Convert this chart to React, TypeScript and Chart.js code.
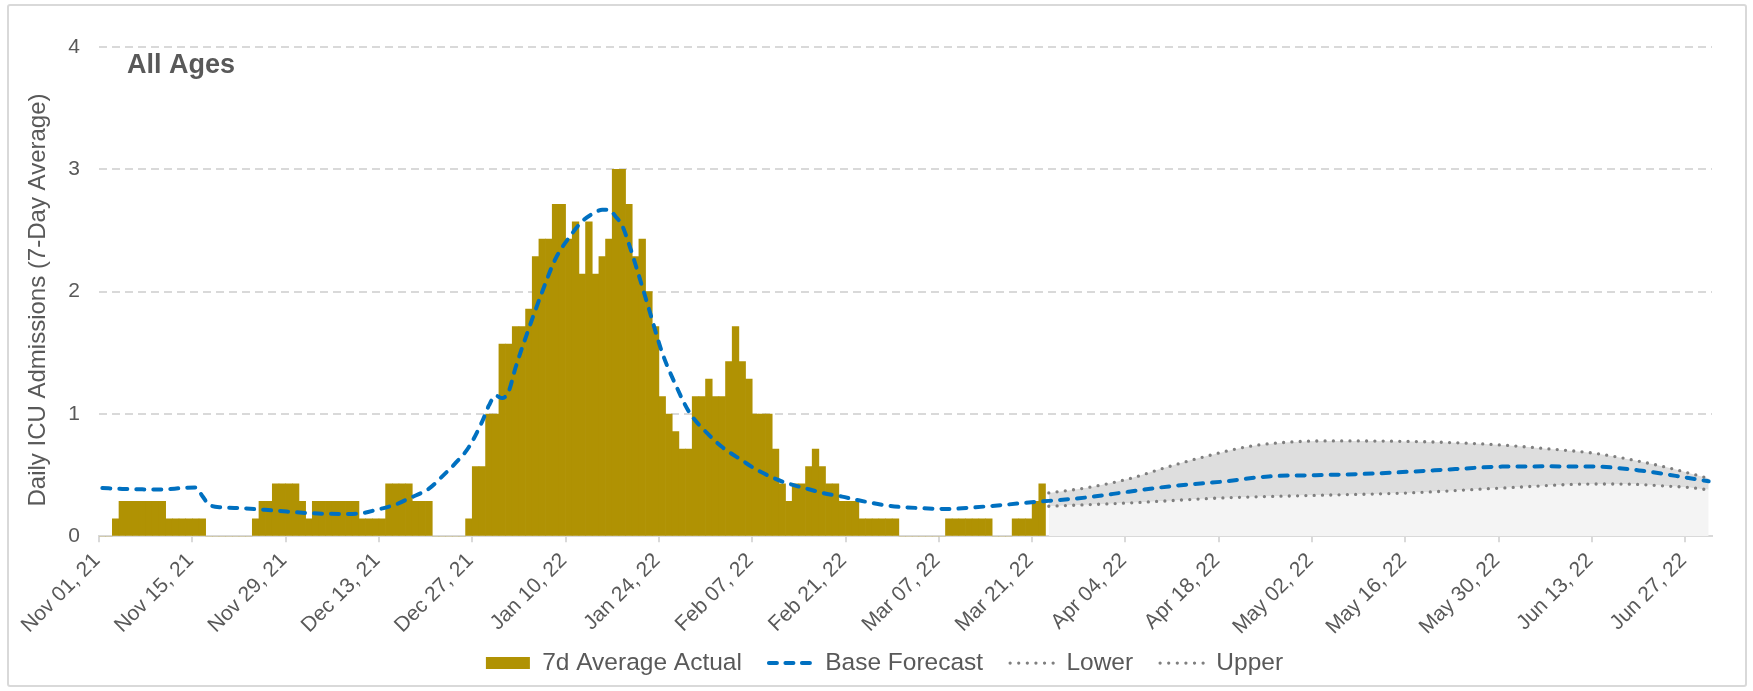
import React, { useEffect, useRef } from 'react';
import { Chart, registerables } from 'chart.js';

Chart.register(...registerables);

const FONT = '"Liberation Sans", Arial, Helvetica, sans-serif';
const TEXT = '#595959';
const GOLD = '#B09203';
const BLUE = '#0070C0';
const DOT = '#7F7F7F';
const GRID = '#D9D9D9';

const panelTitle = 'All Ages';
const yAxisTitle = 'Daily ICU Admissions (7-Day Average)';

// Day 0 = Nov 01, 21 ; last day = Jun 30, 22
const totalDays = 242;
const tickStep = 14;
const tickLabels = [
  'Nov 01, 21', 'Nov 15, 21', 'Nov 29, 21', 'Dec 13, 21', 'Dec 27, 21', 'Jan 10, 22',
  'Jan 24, 22', 'Feb 07, 22', 'Feb 21, 22', 'Mar 07, 22', 'Mar 21, 22', 'Apr 04, 22',
  'Apr 18, 22', 'May 02, 22', 'May 16, 22', 'May 30, 22', 'Jun 13, 22', 'Jun 27, 22',
];

// 7d average actual, one value per day from Nov 01, 21 (day 0) to Mar 22, 22 (day 141)
const actualValues = [
  0, 0, 0.143, 0.286, 0.286, 0.286, 0.286,
  0.286, 0.286, 0.286, 0.143, 0.143, 0.143, 0.143,
  0.143, 0.143, 0, 0, 0, 0, 0,
  0, 0, 0.143, 0.286, 0.286, 0.429, 0.429,
  0.429, 0.429, 0.286, 0.143, 0.286, 0.286, 0.286,
  0.286, 0.286, 0.286, 0.286, 0.143, 0.143, 0.143,
  0.143, 0.429, 0.429, 0.429, 0.429, 0.286, 0.286,
  0.286, 0, 0, 0, 0, 0, 0.143,
  0.571, 0.571, 1, 1, 1.571, 1.571, 1.714,
  1.714, 1.857, 2.286, 2.429, 2.429, 2.714, 2.714,
  2.429, 2.571, 2.143, 2.571, 2.143, 2.286, 2.429,
  3, 3, 2.714, 2.286, 2.429, 2, 1.714,
  1.143, 1, 0.857, 0.714, 0.714, 1.143, 1.143,
  1.286, 1.143, 1.143, 1.429, 1.714, 1.429, 1.286,
  1, 1, 1, 0.714, 0.429, 0.286, 0.429,
  0.429, 0.571, 0.714, 0.571, 0.429, 0.429, 0.286,
  0.286, 0.286, 0.143, 0.143, 0.143, 0.143, 0.143,
  0.143, 0, 0, 0, 0, 0, 0,
  0, 0.143, 0.143, 0.143, 0.143, 0.143, 0.143,
  0.143, 0, 0, 0, 0.143, 0.143, 0.143,
  0.286, 0.429,
];

// Base forecast, read at these days
const forecastDays = [
  0, 3, 6, 9, 12, 14, 15, 16, 18, 21, 26, 31, 36, 39, 41, 44, 46, 49, 51, 53,
  55, 57, 58, 59, 60, 61, 62, 64, 66, 68, 70, 72, 74, 75, 76, 77, 78, 79, 80, 82,
  84, 86, 88, 91, 93, 96, 98, 101, 103, 106, 108, 111, 113, 118, 123, 127, 131, 135, 140, 142,
  148, 154, 161, 168, 175, 182, 189, 196, 203, 210, 217, 224, 231, 238, 241,
];
const forecastValues = [
  0.395, 0.388, 0.384, 0.383, 0.395, 0.4, 0.33, 0.26, 0.237, 0.23, 0.21, 0.19, 0.183, 0.19, 0.215, 0.26, 0.31, 0.39, 0.49, 0.6,
  0.73, 0.94, 1.07, 1.15, 1.13, 1.19, 1.38, 1.7, 2.0, 2.27, 2.44, 2.575, 2.65, 2.67, 2.67, 2.615, 2.54, 2.39, 2.22, 1.86,
  1.5, 1.24, 1.02, 0.83, 0.73, 0.62, 0.55, 0.47, 0.43, 0.385, 0.355, 0.325, 0.3, 0.25, 0.23, 0.224, 0.238, 0.256, 0.282, 0.29,
  0.32, 0.365, 0.414, 0.447, 0.49, 0.5, 0.51, 0.528, 0.55, 0.57, 0.572, 0.57, 0.536, 0.477, 0.45,
];

const lowerDays = [142, 154, 168, 182, 196, 210, 224, 230, 235, 238, 241];
const lowerValues = [0.246, 0.273, 0.314, 0.335, 0.355, 0.395, 0.428, 0.425, 0.41, 0.4, 0.38];

const upperDays = [142, 148, 154, 160, 166, 172, 178, 184, 196, 203, 210, 217, 224, 230, 235, 238, 241];
const upperValues = [0.355, 0.4, 0.47, 0.57, 0.66, 0.735, 0.77, 0.78, 0.776, 0.765, 0.746, 0.715, 0.678, 0.62, 0.56, 0.517, 0.474];

const toPoints = (days: number[], values: number[]) => days.map((d, i) => ({ x: d + 0.5, y: values[i] }));

const textPlugin = {
  id: 'panelTexts',
  afterLayout(chart: any) {
    // let rotated x labels overflow below the axis box (they overlap the legend band in the reference)
    const xs = chart.scales.x;
    if (xs) xs.bottom = chart.height;
  },
  afterDraw(chart: any) {
    const ctx = chart.ctx;
    ctx.save();
    ctx.font = `bold 27px ${FONT}`;
    ctx.fillStyle = TEXT;
    ctx.textAlign = 'left';
    ctx.textBaseline = 'alphabetic';
    ctx.fillText(panelTitle, 127, 73);
    ctx.restore();

    ctx.save();
    ctx.translate(38.5, 300);
    ctx.rotate(-Math.PI / 2);
    ctx.font = `24px ${FONT}`;
    ctx.fillStyle = TEXT;
    ctx.textAlign = 'center';
    ctx.textBaseline = 'middle';
    ctx.fillText(yAxisTitle, 0, 0);
    ctx.restore();
  },
};

export default function App() {
  const canvasRef = useRef<HTMLCanvasElement | null>(null);

  useEffect(() => {
    const canvas = canvasRef.current;
    if (!canvas) return;
    Chart.defaults.font.family = FONT;
    Chart.defaults.color = TEXT;

    const chart = new Chart(canvas, {
      type: 'bar',
      data: {
        datasets: [
          {
            type: 'bar',
            label: '7d Average Actual',
            data: actualValues.map((v, i) => ({ x: i + 0.5, y: v })),
            backgroundColor: GOLD,
            borderWidth: 0,
            barPercentage: 1,
            categoryPercentage: 1,
            order: 2,
          },
          {
            type: 'line',
            label: 'Base Forecast',
            data: toPoints(forecastDays, forecastValues),
            borderColor: BLUE,
            borderWidth: 4,
            borderDash: [8, 9],
            borderCapStyle: 'round',
            pointRadius: 0,
            cubicInterpolationMode: 'monotone',
            fill: false,
            order: 0,
          },
          {
            type: 'line',
            label: 'Lower',
            data: toPoints(lowerDays, lowerValues),
            borderColor: DOT,
            borderWidth: 3.3,
            borderDash: [0, 8.3],
            borderCapStyle: 'round',
            pointRadius: 0,
            cubicInterpolationMode: 'monotone',
            fill: 'origin',
            backgroundColor: '#F4F4F4',
            order: 3,
          },
          {
            type: 'line',
            label: 'Upper',
            data: toPoints(upperDays, upperValues),
            borderColor: DOT,
            borderWidth: 3.3,
            borderDash: [0, 8.3],
            borderCapStyle: 'round',
            pointRadius: 0,
            cubicInterpolationMode: 'monotone',
            fill: '-1',
            backgroundColor: '#DEDEDE',
            order: 3,
          },
        ],
      } as any,
      options: {
        responsive: false,
        animation: false,
        devicePixelRatio: 1,
        events: [],
        layout: { padding: { top: 47, right: 41, bottom: 5.65, left: 57 } },
        plugins: {
          tooltip: { enabled: false },
          title: { display: false },
          legend: {
            display: true,
            position: 'bottom',
            labels: {
              usePointStyle: true,
              pointStyleWidth: 44,
              boxHeight: 12,
              padding: 27,
              color: TEXT,
              font: { family: FONT, size: 24.5 },
              generateLabels: (ch: any) =>
                ch.data.datasets.map((ds: any, i: number) => ({
                  text: ds.label,
                  datasetIndex: i,
                  hidden: false,
                  fillStyle: i === 0 ? GOLD : 'rgba(0,0,0,0)',
                  strokeStyle: i === 0 ? GOLD : ds.borderColor,
                  lineWidth: i === 0 ? 0 : ds.borderWidth,
                  lineDash: i === 0 ? [] : i === 1 ? [8, 8.5] : [0, 8.6],
                  lineCap: i === 0 ? 'butt' : 'round',
                  pointStyle: i === 0 ? 'rect' : 'line',
                  fontColor: TEXT,
                })),
            },
          },
        },
        scales: {
          x: {
            type: 'linear',
            min: 0,
            max: totalDays,
            offset: false,
            grid: {
              display: true,
              drawOnChartArea: false,
              drawTicks: true,
              tickLength: 6,
              color: GRID,
              lineWidth: 2,
              offset: false,
            },
            border: { display: true, color: GRID, width: 2 },
            ticks: {
              autoSkip: false,
              includeBounds: false,
              maxRotation: 45,
              minRotation: 45,
              padding: 6,
              labelOffset: -2,
              color: TEXT,
              font: { family: FONT, size: 21 },
              callback: (v: any) => tickLabels[Math.round(Number(v) / tickStep)] ?? '',
            },
            afterBuildTicks: (s: any) => {
              s.ticks = tickLabels.map((_, i) => ({ value: i * tickStep }));
            },
            afterFit: (s: any) => {
              s.height = 87.5;
            },
          },
          y: {
            min: 0,
            max: 4,
            ticks: {
              stepSize: 1,
              padding: 19,
              color: TEXT,
              font: { family: FONT, size: 21 },
            },
            grid: { color: GRID, lineWidth: 2, drawTicks: false },
            border: { display: false, dash: [8, 5] },
            title: { display: false },
            afterFit: (s: any) => {
              s.width = 42;
            },
          },
        },
      } as any,
      plugins: [textPlugin],
    });
    return () => chart.destroy();
  }, []);

  return (
    <div style={{ position: 'absolute', left: 0, top: 0, width: 1753, height: 691, background: '#fff', overflow: 'hidden' }}>
      <div
        style={{
          position: 'absolute',
          left: 7,
          top: 4,
          width: 1736,
          height: 679,
          border: '2px solid #D9D9D9',
          borderRadius: 3,
        }}
      />
      <canvas
        ref={canvasRef}
        width={1753}
        height={691}
        style={{ position: 'absolute', left: 0, top: 0, width: 1753, height: 691 }}
      />
    </div>
  );
}
